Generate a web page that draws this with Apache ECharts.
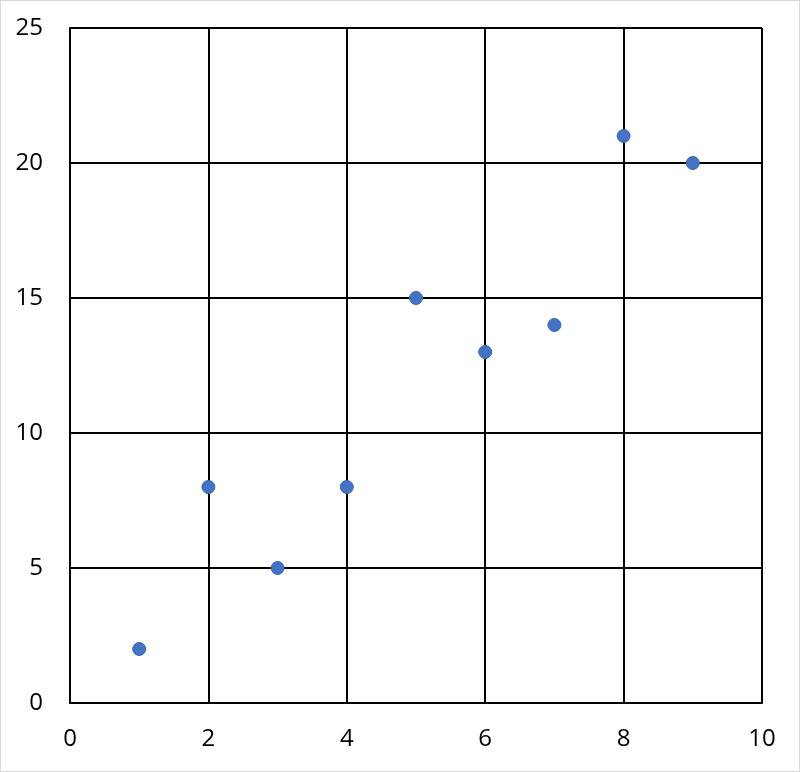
<!DOCTYPE html>
<html><head><meta charset="utf-8">
<script src="https://cdn.jsdelivr.net/npm/echarts@6/dist/echarts.min.js"></script>
<style>
html,body{margin:0;padding:0;background:#fff;}
#c{width:798px;height:770px;border:1px solid #d9d9d9;}
</style></head><body>
<div id="c"></div>
<script>
const xValues = [1, 2, 3, 4, 5, 6, 7, 8, 9];
const yValues = [2, 8, 5, 8, 15, 13, 14, 21, 20];
const xTicks = [0, 2, 4, 6, 8, 10];
const yTicks = [0, 5, 10, 15, 20, 25];
const data = xValues.map((x, i) => [x, yValues[i]]);
const chart = echarts.init(document.getElementById('c'));
const lab = {color:'#000', fontSize:24, fontFamily:'Open Sans, Liberation Sans, sans-serif'};
chart.setOption({
  animation:false,
  grid:{left:69, right:37, top:27, bottom:68},
  xAxis:{type:'value', min:xTicks[0], max:xTicks[xTicks.length-1], interval:xTicks[1]-xTicks[0],
    axisLine:{show:true, lineStyle:{color:'#000', width:2}}, axisTick:{show:false},
    splitLine:{show:true, lineStyle:{color:'#000', width:2}},
    axisLabel:Object.assign({margin:24}, lab)},
  yAxis:{type:'value', min:yTicks[0], max:yTicks[yTicks.length-1], interval:yTicks[1]-yTicks[0],
    axisLine:{show:true, lineStyle:{color:'#000', width:2}}, axisTick:{show:false},
    splitLine:{show:true, lineStyle:{color:'#000', width:2}},
    axisLabel:Object.assign({margin:27}, lab)},
  series:[{type:'scatter', data:data, symbolSize:13,
    itemStyle:{color:'#4472C4', borderColor:'#3a64b0', borderWidth:1, opacity:1}}]
});
</script></body></html>
